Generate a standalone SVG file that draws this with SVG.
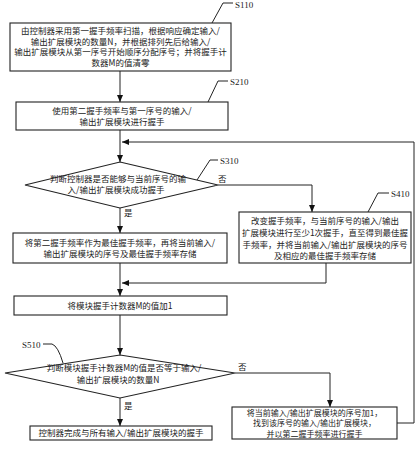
<svg xmlns="http://www.w3.org/2000/svg" width="416" height="450" viewBox="0 0 416 450">
<defs>
<marker id="arr" markerWidth="7" markerHeight="6" refX="7" refY="3" orient="auto" markerUnits="userSpaceOnUse">
<path d="M0,0 L7,3 L0,6 z" fill="#111"/>
</marker>
<style>
.box{fill:#fff;stroke:#222;stroke-width:1.1}
.ln{fill:none;stroke:#222;stroke-width:1}
.t{font-family:"Noto Sans CJK SC","Noto Sans",sans-serif;font-size:8.5px;fill:#222;text-anchor:middle}
.s{font-size:8px}
.lab{font-family:"Liberation Serif",serif;font-size:9px;fill:#222}
.yn{font-family:"Noto Sans CJK SC",sans-serif;font-size:8.5px;fill:#222}
</style>
</defs>
<rect width="416" height="450" fill="#fff"/>

<g id="connectors">
<line class="ln" x1="120" y1="71" x2="120" y2="102" marker-end="url(#arr)"/>
<line class="ln" x1="120" y1="130" x2="120" y2="162" marker-end="url(#arr)"/>
<polyline class="ln" points="397,423 414,423 414,142 122,142" marker-end="url(#arr)"/>
<polyline class="ln" points="218,185 312,185 312,212" marker-end="url(#arr)"/>
<line class="ln" x1="120" y1="208" x2="120" y2="233" marker-end="url(#arr)"/>
<line class="ln" x1="120" y1="263" x2="120" y2="296" marker-end="url(#arr)"/>
<polyline class="ln" points="326,263 326,283 122,283" marker-end="url(#arr)"/>
<line class="ln" x1="120" y1="315" x2="120" y2="355" marker-end="url(#arr)"/>
<polyline class="ln" points="235,373 330,373 330,407" marker-end="url(#arr)"/>
<line class="ln" x1="120" y1="398" x2="120" y2="426" marker-end="url(#arr)"/>
<text class="yn" x="218" y="182">否</text>
<text class="yn" x="124" y="216">是</text>
<text class="yn" x="238" y="370">否</text>
<text class="yn" x="124" y="409">是</text>
</g>

<g id="S110">
<rect class="box" x="10" y="23" width="221" height="48"/>
<text class="t" x="120.5" y="34">由控制器采用第一握手频率扫描，根据响应确定输入/</text>
<text class="t" x="120.5" y="44.5">输出扩展模块的数量N，并根据排列先后给输入/</text>
<text class="t" x="120.5" y="55">输出扩展模块从第一序号开始顺序分配序号；并将握手计</text>
<text class="t" x="120.5" y="66">数器M的值清零</text>
<polyline class="ln" points="212,23 223,3 233,3"/>
<text class="lab" x="235" y="8">S110</text>
</g>

<g id="S210">
<rect class="box" x="16" y="102" width="212" height="28"/>
<text class="t" x="122" y="114">使用第二握手频率与第一序号的输入/</text>
<text class="t" x="122" y="125">输出扩展模块进行握手</text>
<polyline class="ln" points="208,102 218,81 228,81"/>
<text class="lab" x="230" y="85">S210</text>
</g>

<g id="S310">
<polygon class="box" points="120,162 218,185 120,208 25,185"/>
<text class="t" x="118" y="182">判断控制器是否能够与当前序号的输</text>
<text class="t" x="116" y="193">入/输出扩展模块成功握手</text>
<polyline class="ln" points="197,180 210,160 218,160"/>
<text class="lab" x="220" y="164">S310</text>
</g>

<g id="S410">
<rect class="box" x="239" y="212" width="172" height="51"/>
<text class="t" x="325" y="224">改变握手频率，与当前序号的输入/输出</text>
<text class="t" x="325" y="236">扩展模块进行至少1次握手，直至得到最佳握</text>
<text class="t" x="325" y="248">手频率，并将当前输入/输出扩展模块的序号</text>
<text class="t" x="325" y="259">及相应的最佳握手频率存储</text>
<polyline class="ln" points="368,212 378,193 389,193"/>
<text class="lab" x="391" y="197">S410</text>
</g>

<g id="store">
<rect class="box" x="13" y="233" width="214" height="30"/>
<text class="t" x="120" y="246">将第二握手频率作为最佳握手频率，再将当前输入/</text>
<text class="t" x="120" y="257">输出扩展模块的序号及最佳握手频率存储</text>
</g>

<g id="incM">
<rect class="box" x="14" y="296" width="213" height="19"/>
<text class="t" x="120" y="309">将模块握手计数器M的值加1</text>
</g>

<g id="S510">
<polygon class="box" points="120,355 235,373 120,398 5,373"/>
<text class="t" x="124" y="371">判断模块握手计数器M的值是否等于输入/</text>
<text class="t" x="118" y="383">输出扩展模块的数量N</text>
<path class="ln" d="M43,344 L52,344 Q58,346 63,363"/>
<text class="lab" x="22" y="348">S510</text>
</g>

<g id="done">
<rect class="box" x="30" y="426" width="182" height="14"/>
<text class="t" x="121" y="436">控制器完成与所有输入/输出扩展模块的握手</text>
</g>

<g id="next">
<rect class="box" x="232" y="407" width="165" height="32"/>
<text class="t s" x="314.5" y="415.5">将当前输入/输出扩展模块的序号加1，</text>
<text class="t s" x="314.5" y="426">找到该序号的输入/输出扩展模块，</text>
<text class="t s" x="314.5" y="436.5">并以第二握手频率进行握手</text>
</g>
</svg>
